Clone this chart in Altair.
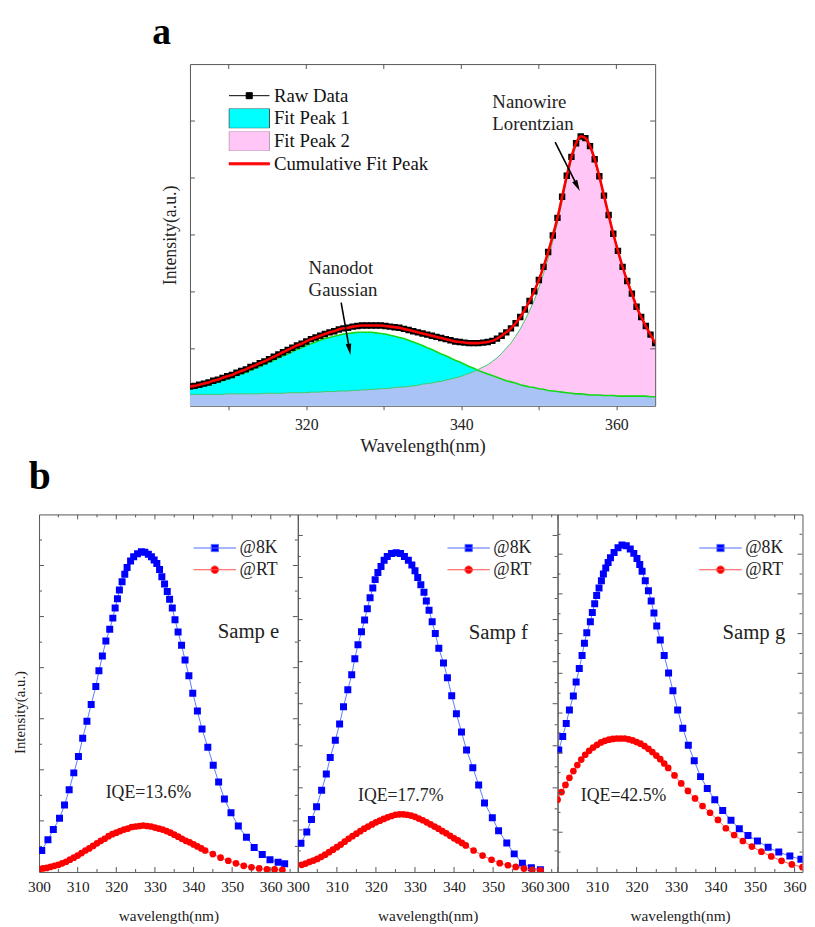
import altair as alt
import pandas as pd

FONT = "Liberation Serif"
FRAME = "#555555"

# ---------------- panel a : values ----------------
wl_a = [
    305.0, 305.6, 306.2, 306.8, 307.4, 308.0, 308.6, 309.2, 309.8, 310.4,
    311.0, 311.6, 312.2, 312.8, 313.4, 314.0, 314.6, 315.2, 315.8, 316.4,
    317.0, 317.6, 318.2, 318.8, 319.4, 320.0, 320.6, 321.2, 321.8, 322.4,
    323.0, 323.6, 324.2, 324.8, 325.4, 326.0, 326.6, 327.2, 327.8, 328.4,
    329.0, 329.6, 330.2, 330.8, 331.4, 332.0, 332.6, 333.2, 333.8, 334.4,
    335.0, 335.6, 336.2, 336.8, 337.4, 338.0, 338.6, 339.2, 339.8, 340.4,
    341.0, 341.6, 342.2, 342.8, 343.4, 344.0, 344.6, 345.2, 345.8, 346.4,
    347.0, 347.6, 348.2, 348.8, 349.4, 350.0, 350.6, 351.2, 351.8, 352.4,
    353.0, 353.6, 354.2, 354.8, 355.4, 356.0, 356.6, 357.2, 357.8, 358.4,
    359.0, 359.6, 360.2, 360.8, 361.4, 362.0, 362.6, 363.2, 363.8, 364.4,
    365.0,
]
raw_a = [
    0.34, 0.35, 0.37, 0.39, 0.41, 0.44, 0.46, 0.49, 0.52, 0.54,
    0.58, 0.61, 0.64, 0.68, 0.71, 0.75, 0.78, 0.82, 0.86, 0.90,
    0.94, 0.98, 1.02, 1.06, 1.09, 1.13, 1.17, 1.20, 1.23, 1.26,
    1.29, 1.31, 1.34, 1.36, 1.37, 1.39, 1.40, 1.41, 1.41, 1.41,
    1.41, 1.41, 1.40, 1.39, 1.38, 1.37, 1.35, 1.33, 1.31, 1.29,
    1.27, 1.25, 1.23, 1.21, 1.19, 1.17, 1.15, 1.13, 1.12, 1.11,
    1.10, 1.10, 1.10, 1.11, 1.12, 1.14, 1.18, 1.23, 1.29, 1.36,
    1.45, 1.56, 1.69, 1.84, 2.01, 2.21, 2.44, 2.70, 2.99, 3.30,
    3.67, 4.04, 4.37, 4.61, 4.73, 4.70, 4.56, 4.33, 4.03, 3.69,
    3.35, 3.02, 2.72, 2.44, 2.19, 1.97, 1.74, 1.56, 1.40, 1.25,
    1.10,
]
peak1_a = [
    0.30, 0.32, 0.33, 0.35, 0.37, 0.40, 0.42, 0.44, 0.47, 0.50,
    0.53, 0.56, 0.59, 0.62, 0.66, 0.69, 0.73, 0.77, 0.80, 0.84,
    0.88, 0.91, 0.95, 0.99, 1.02, 1.06, 1.09, 1.12, 1.15, 1.18,
    1.20, 1.22, 1.24, 1.26, 1.27, 1.28, 1.29, 1.29, 1.29, 1.29,
    1.28, 1.27, 1.26, 1.24, 1.22, 1.20, 1.18, 1.15, 1.12, 1.09,
    1.06, 1.02, 0.99, 0.95, 0.91, 0.88, 0.84, 0.80, 0.77, 0.73,
    0.69, 0.66, 0.62, 0.59, 0.56, 0.53, 0.50, 0.47, 0.44, 0.42,
    0.40, 0.37, 0.35, 0.33, 0.32, 0.30, 0.29, 0.27, 0.26, 0.25,
    0.24, 0.23, 0.22, 0.21, 0.21, 0.20, 0.19, 0.19, 0.19, 0.18,
    0.18, 0.18, 0.17, 0.17, 0.17, 0.17, 0.17, 0.17, 0.17, 0.16,
    0.16,
]
peak2_a = [
    0.20, 0.20, 0.20, 0.20, 0.20, 0.20, 0.20, 0.20, 0.21, 0.21,
    0.21, 0.21, 0.21, 0.21, 0.21, 0.21, 0.22, 0.22, 0.22, 0.22,
    0.22, 0.23, 0.23, 0.23, 0.23, 0.23, 0.24, 0.24, 0.24, 0.25,
    0.25, 0.25, 0.26, 0.26, 0.26, 0.27, 0.27, 0.28, 0.28, 0.29,
    0.29, 0.30, 0.30, 0.31, 0.32, 0.33, 0.33, 0.34, 0.35, 0.36,
    0.38, 0.39, 0.40, 0.42, 0.43, 0.45, 0.47, 0.49, 0.51, 0.54,
    0.57, 0.60, 0.64, 0.68, 0.72, 0.78, 0.84, 0.92, 1.01, 1.10,
    1.22, 1.35, 1.50, 1.67, 1.85, 2.07, 2.32, 2.59, 2.89, 3.21,
    3.59, 3.97, 4.31, 4.56, 4.68, 4.66, 4.53, 4.30, 4.00, 3.67,
    3.33, 3.01, 2.70, 2.43, 2.18, 1.96, 1.73, 1.55, 1.40, 1.25,
    1.10,
]
legend_a = ["Raw Data", "Fit Peak 1", "Fit Peak 2", "Cumulative Fit Peak"]
ann_a_text = ["Nanowire", "Lorentzian", "Nanodot", "Gaussian"]
ann_a_wl = [344.0, 344.0, 320.3, 320.3]
ann_a_val = [5.33, 4.95, 2.41, 2.03]
arrow_wire = {"wl": [352.1], "val": [4.63], "wl2": [354.95], "val2": [3.86]}
arrow_dot = {"wl": [324.5], "val": [1.81], "wl2": [325.57], "val2": [0.99]}
xticks_a = [310, 320, 330, 340, 350, 360]
yticks_a = [1, 2, 3, 4, 5]

# ---------------- panel b : values ----------------
e8_wl = [300.7, 302.3, 303.7, 305.3, 306.6, 307.8, 309.0, 310.2, 311.3, 312.4,
         313.5, 314.7, 315.5, 316.4, 317.3, 318.3, 319.1, 319.7, 320.3, 320.8,
         321.5, 322.2, 322.8, 323.7, 324.5, 325.5, 326.5, 327.4, 328.3, 329.1,
         329.8, 330.5, 331.2, 331.8, 332.5, 333.2, 333.8, 334.5, 335.2, 336.0,
         336.9, 337.8, 338.8, 339.8, 341.0, 342.2, 343.7, 345.1, 346.5, 348.0,
         349.7, 351.6, 353.7, 355.7, 357.8, 359.8, 361.9, 363.6]
e8_val = [0.42, 0.63, 0.83, 1.05, 1.31, 1.61, 1.94, 2.26, 2.62, 2.95,
          3.28, 3.63, 3.94, 4.23, 4.52, 4.75, 4.97, 5.17, 5.35, 5.52,
          5.68, 5.83, 5.96, 6.09, 6.17, 6.23, 6.27, 6.26, 6.22, 6.17,
          6.11, 6.04, 5.92, 5.78, 5.64, 5.49, 5.34, 5.17, 4.94, 4.70,
          4.44, 4.15, 3.84, 3.50, 3.15, 2.80, 2.44, 2.09, 1.76, 1.43,
          1.16, 0.90, 0.68, 0.48, 0.34, 0.24, 0.19, 0.16]
eRT_wl = [300, 301, 302, 303, 304, 305, 306, 307, 308, 309,
          310, 311, 312, 313, 314, 315, 316, 317, 318, 319,
          320, 321, 322, 323, 324, 325, 326, 327, 328, 329,
          330, 331, 332, 333, 334, 335, 336, 337, 338, 339,
          340, 341, 342, 343, 345, 347, 349, 351, 353, 355,
          357, 359, 361, 363]
eRT_val = [0.05, 0.07, 0.08, 0.10, 0.12, 0.14, 0.17, 0.20, 0.24, 0.28,
           0.32, 0.37, 0.42, 0.46, 0.51, 0.56, 0.61, 0.65, 0.70, 0.74,
           0.77, 0.80, 0.83, 0.85, 0.88, 0.89, 0.90, 0.91, 0.90, 0.89,
           0.87, 0.85, 0.83, 0.80, 0.77, 0.73, 0.69, 0.65, 0.61, 0.58,
           0.54, 0.50, 0.46, 0.42, 0.35, 0.28, 0.22, 0.17, 0.12, 0.09,
           0.07, 0.05, 0.05, 0.04]
f8_wl = [300.8, 302.3, 303.5, 304.8, 306.1, 307.3, 308.3, 309.6, 310.7, 311.7,
         312.8, 313.8, 314.6, 315.4, 316.3, 317.1, 317.8, 318.5, 319.2, 319.8,
         320.5, 321.3, 322.1, 322.9, 324.0, 325.2, 326.3, 327.3, 328.3, 329.2,
         330.0, 330.7, 331.5, 332.3, 332.9, 333.6, 334.4, 335.2, 336.1, 337.3,
         338.3, 339.4, 340.6, 341.9, 343.2, 344.8, 346.3, 347.8, 349.8, 351.4,
         353.5, 355.4, 357.5, 359.8, 362.1]
f8_val = [0.68, 0.95, 1.25, 1.55, 1.94, 2.33, 2.72, 3.13, 3.52, 3.93,
          4.33, 4.69, 5.07, 5.40, 5.71, 5.99, 6.26, 6.52, 6.75, 6.95,
          7.12, 7.26, 7.41, 7.50, 7.57, 7.59, 7.57, 7.50, 7.41, 7.30,
          7.16, 7.00, 6.83, 6.65, 6.44, 6.22, 5.95, 5.67, 5.32, 4.97,
          4.62, 4.19, 3.76, 3.33, 2.90, 2.48, 2.07, 1.64, 1.29, 0.98,
          0.69, 0.43, 0.21, 0.10, 0.05]
fRT_wl = [301, 302, 303, 304, 305, 306, 307, 308, 309, 310,
          311, 312, 313, 314, 315, 316, 317, 318, 319, 320,
          321, 322, 323, 324, 325, 326, 327, 328, 329, 330,
          331, 332, 333, 334, 335, 336, 337, 338, 339, 340,
          341, 342, 343, 345.0, 347.3, 349.6, 351.7, 353.8, 355.8, 357.9,
          360.0, 362.1]
fRT_val = [0.17, 0.20, 0.24, 0.27, 0.31, 0.36, 0.41, 0.47, 0.53, 0.59,
           0.65, 0.72, 0.79, 0.85, 0.91, 0.97, 1.03, 1.08, 1.13, 1.18,
           1.22, 1.26, 1.30, 1.33, 1.36, 1.37, 1.37, 1.36, 1.34, 1.31,
           1.27, 1.23, 1.18, 1.13, 1.08, 1.03, 0.97, 0.92, 0.86, 0.80,
           0.75, 0.69, 0.63, 0.51, 0.39, 0.29, 0.21, 0.16, 0.12, 0.08,
           0.05, 0.04]
g8_wl = [300.3, 301.3, 302.2, 303.0, 304.0, 304.7, 305.5, 306.2, 306.8, 307.4,
         308.3, 308.8, 309.4, 309.9, 310.5, 311.1, 311.6, 312.2, 312.8, 313.4,
         314.3, 315.3, 316.3, 317.4, 318.4, 319.3, 320.1, 320.8, 321.4, 322.2,
         323.0, 323.7, 324.4, 325.1, 326.0, 327.0, 328.1, 329.2, 330.4, 331.7,
         333.1, 334.6, 336.2, 337.9, 339.8, 341.8, 343.9, 346.0, 348.2, 350.6,
         353.3, 356.0, 358.8, 361.6]
g8_val = [3.07, 3.41, 3.74, 4.08, 4.43, 4.78, 5.12, 5.45, 5.76, 6.02,
          6.30, 6.53, 6.75, 6.96, 7.15, 7.33, 7.50, 7.65, 7.79, 7.91,
          8.04, 8.16, 8.23, 8.21, 8.13, 8.02, 7.89, 7.74, 7.57, 7.33,
          7.08, 6.82, 6.52, 6.19, 5.84, 5.45, 5.01, 4.56, 4.08, 3.62,
          3.19, 2.80, 2.40, 2.10, 1.82, 1.55, 1.30, 1.09, 0.92, 0.78,
          0.62, 0.50, 0.40, 0.32]
gRT_wl = [300, 301, 302, 303, 304, 305, 306, 307, 308, 309,
          310, 311, 312, 313, 314, 315, 316, 317, 318, 319,
          320, 321, 322, 323, 324, 325, 326, 327, 328, 329.6,
          331.3, 333.0, 334.8, 336.7, 338.6, 340.6, 342.6, 344.7, 346.9, 349.2,
          351.6, 354.1, 356.7, 359.3, 362.0]
gRT_val = [1.82, 2.01, 2.19, 2.37, 2.54, 2.69, 2.83, 2.95, 3.05, 3.13,
           3.20, 3.26, 3.30, 3.33, 3.35, 3.36, 3.36, 3.36, 3.34, 3.31,
           3.27, 3.23, 3.17, 3.10, 3.02, 2.93, 2.84, 2.73, 2.62, 2.43,
           2.23, 2.04, 1.85, 1.66, 1.49, 1.31, 1.10, 0.93, 0.78, 0.64,
           0.51, 0.39, 0.28, 0.19, 0.12]

legend_b = ["@8K", "@RT"]
sample_names = ["Samp e", "Samp f", "Samp g"]
iqe_text = ["IQE=13.6%", "IQE=17.7%", "IQE=42.5%"]
samp_wl = [346.25, 343.75, 341.75]
samp_val = [4.69, 5.68, 6.02]
iqe_wl = [317.25, 315.4, 305.9]
iqe_val = [1.55, 1.81, 1.92]
xlabels_b = [300, 310, 320, 330, 340, 350, 360]
xminor_b = [305, 315, 325, 335, 345, 355, 365]
ymajor_e = [1, 2, 3, 4, 5, 6]
yminor_e = [0.5, 1.5, 2.5, 3.5, 4.5, 5.5, 6.5]
ymajor_f = [1, 2, 3, 4, 5, 6, 7, 8]
yminor_f = [0.5, 1.5, 2.5, 3.5, 4.5, 5.5, 6.5, 7.5]
ymajor_g = [1, 2, 3, 4, 5, 6, 7, 8]
yminor_g = [0.5, 1.5, 2.5, 3.5, 4.5, 5.5, 6.5, 7.5, 8.5]

# legend symbol shapes (custom paths)
PATH_RAW = "M-1,0H1M-0.15,-0.15H0.15V0.15H-0.15Z"
PATH_BOX = "M-1,-0.49H1V0.49H-1Z"
PATH_FIT = "M-1,-0.05H1V0.05H-1Z"
PATH_SQ = "M-1,0H1M-0.17,-0.17H0.17V0.17H-0.17Z"
PATH_CI = "M-1,0H1M0.18,0A0.18,0.18,0,1,1,-0.18,0A0.18,0.18,0,1,1,0.18,0Z"
PATH_HEAD = "M0,-1L0.5,1L-0.5,1Z"


def xrule(vals, X, y0, y1):
    return alt.Chart(pd.DataFrame({"wl": vals})).mark_rule(
        color=FRAME, strokeWidth=1, clip=True
    ).encode(x=X, y=alt.value(y0), y2=alt.value(y1))


def yrule(vals, Y, x0, x1):
    return alt.Chart(pd.DataFrame({"val": vals})).mark_rule(
        color=FRAME, strokeWidth=1, clip=True
    ).encode(y=Y, x=alt.value(x0), x2=alt.value(x1))


# ---------------- panel a ----------------
W_A, H_A = 471, 346
xs_a = alt.Scale(domain=[305, 365], nice=False, zero=False)
ys_a = alt.Scale(domain=[0, 6], nice=False)
ax_ax = alt.Axis(title="Wavelength(nm)", values=xticks_a,
                 labelExpr="datum.value % 20 == 0 ? datum.label : ''",
                 grid=False, domain=False, ticks=True, tickSize=4, tickColor=FRAME,
                 labelPadding=7, labelFontSize=16, labelFlush=False,
                 titleFontSize=19, titlePadding=4)
ax_ay = alt.Axis(title="Intensity(a.u.)", labels=False, ticks=False, domain=False,
                 grid=False, titleFontSize=18, titlePadding=11)
XA = alt.X("wl:Q", scale=xs_a, axis=ax_ax)


def YA(field):
    return alt.Y(f"{field}:Q", scale=ys_a, axis=ax_ay)


df_a = pd.DataFrame({"wl": wl_a, "raw": raw_a, "p1": peak1_a, "p2": peak2_a})
base_a = alt.Chart(df_a)
area1 = base_a.mark_area(color="#00FFFF", clip=True).encode(x=XA, y=YA("p1"))
area2 = base_a.mark_area(color="#FFC6F6", clip=True).encode(x=XA, y=YA("p2"))
area3 = base_a.transform_calculate(ov="min(datum.p1, datum.p2)").mark_area(
    color="#A9C3F6", clip=True).encode(x=XA, y=YA("ov"))
edge1 = base_a.mark_line(color="#14d814", strokeWidth=1.6, clip=True).encode(x=XA, y=YA("p1"))
edge2 = base_a.mark_line(color="#3cc86a", strokeWidth=1, clip=True).encode(x=XA, y=YA("p2"))
raw_line = base_a.mark_line(color="black", strokeWidth=1.5, clip=True).encode(x=XA, y=YA("raw"))
raw_pts = base_a.mark_point(shape="square", filled=True, color="black", size=42,
                            opacity=1, clip=True).encode(x=XA, y=YA("raw"))
fit_line = base_a.mark_line(color="#FF0000", strokeWidth=2.6, interpolate="monotone",
                            clip=True).encode(x=XA, y=YA("raw"))

ann_a = alt.Chart(pd.DataFrame({"wl": ann_a_wl, "val": ann_a_val, "txt": ann_a_text})).mark_text(
    align="left", baseline="middle", font=FONT, fontSize=19, color="#222222"
).encode(x=XA, y=YA("val"), text="txt:N")


def arrow(d, angle):
    df = pd.DataFrame(d)
    shaft = alt.Chart(df).mark_rule(color="black", strokeWidth=1.6).encode(
        x=XA, y=YA("val"), x2="wl2:Q", y2="val2:Q")
    head = alt.Chart(df).mark_point(shape=PATH_HEAD, filled=True, color="black", size=130,
                                    opacity=1, angle=angle).encode(
        x=alt.X("wl2:Q", scale=xs_a, axis=ax_ax), y=alt.Y("val2:Q", scale=ys_a, axis=ax_ay))
    return shaft + head


leg_a_props = alt.Legend(title=None, orient="none", legendX=39, legendY=22, padding=0,
                         labelFont=FONT, labelFontSize=19, labelColor="#111111",
                         symbolSize=1681, symbolStrokeWidth=1, labelOffset=4,
                         rowPadding=3, clipHeight=20, labelLimit=0)
leg_a = alt.Chart(pd.DataFrame({"item_a": legend_a})).transform_filter("false").mark_point(
    filled=True, opacity=1
).encode(
    fill=alt.Fill("item_a:N", scale=alt.Scale(domain=legend_a, range=["#000000", "#00FFFF", "#FFC6F6", "#FF0000"]), legend=leg_a_props),
    stroke=alt.Stroke("item_a:N", scale=alt.Scale(domain=legend_a, range=["#000000", "#4a4a4a", "#b49ab4", "#FF0000"]), legend=leg_a_props),
    shape=alt.Shape("item_a:N", scale=alt.Scale(domain=legend_a, range=[PATH_RAW, PATH_BOX, PATH_BOX, PATH_FIT]), legend=leg_a_props),
)

ticks_a = alt.layer(
    xrule(xticks_a, XA, 0, 5),
    yrule(yticks_a, YA("val"), 0, 5),
    yrule(yticks_a, YA("val"), W_A, W_A - 5),
)

panel_a = alt.layer(
    area1, area2, area3, edge1, edge2, raw_line, raw_pts, fit_line,
    ann_a, arrow(arrow_wire, 153), arrow(arrow_dot, 170), ticks_a, leg_a
).properties(width=W_A, height=H_A)


# ---------------- panel b ----------------
H_B = 362


def panel_b(i, wl8, v8, wlr, vr, ymax, xmax, width, leg_x, ymaj, ymin, show_y):
    xs = alt.Scale(domain=[300, xmax], nice=False, zero=False)
    ys = alt.Scale(domain=[0, ymax], nice=False)
    ax_x = alt.Axis(title="wavelength(nm)", values=xlabels_b, grid=False, domain=False,
                    ticks=False, labelPadding=8, labelFontSize=15.5, labelFlush=False,
                    labelOverlap=False, titleFontSize=15.5, titlePadding=14)
    if show_y:
        ax_y = alt.Axis(title="Intensity(a.u.)", labels=False, ticks=False, domain=False,
                        grid=False, titleFontSize=15, titlePadding=12, titleY=200)
    else:
        ax_y = None
    X = alt.X("wl:Q", scale=xs, axis=ax_x)
    Y = alt.Y("val:Q", scale=ys, axis=ax_y)

    d8 = alt.Chart(pd.DataFrame({"wl": wl8, "val": v8}))
    drt = alt.Chart(pd.DataFrame({"wl": wlr, "val": vr}))
    l8 = d8.mark_line(color="#5b7bff", strokeWidth=1, clip=True).encode(x=X, y=Y)
    p8 = d8.mark_point(shape="square", filled=True, color="#0000FF", size=50, opacity=1,
                       clip=True).encode(x=X, y=Y)
    lrt = drt.mark_line(color="#ff6060", strokeWidth=1, clip=True).encode(x=X, y=Y)
    prt = drt.mark_circle(color="#FF0000", size=46, opacity=1, clip=True).encode(x=X, y=Y)

    samp = alt.Chart(pd.DataFrame({"wl": [samp_wl[i]], "val": [samp_val[i]], "txt": [sample_names[i]]})).mark_text(
        align="left", baseline="middle", font=FONT, fontSize=21, color="#222222"
    ).encode(x=X, y=Y, text="txt:N")
    iqe = alt.Chart(pd.DataFrame({"wl": [iqe_wl[i]], "val": [iqe_val[i]], "txt": [iqe_text[i]]})).mark_text(
        align="left", baseline="middle", font=FONT, fontSize=18, color="#222222"
    ).encode(x=X, y=Y, text="txt:N")

    ticks = alt.layer(
        xrule(xlabels_b, X, 0, 5), xrule(xminor_b, X, 0, 3),
        xrule(xlabels_b, X, H_B, H_B - 5), xrule(xminor_b, X, H_B, H_B - 3),
        yrule(ymaj, Y, 0, 5), yrule(ymin, Y, 0, 3),
        yrule(ymaj, Y, width, width - 5), yrule(ymin, Y, width, width - 3),
    )

    lp = alt.Legend(title=None, orient="none", legendX=leg_x, legendY=25, padding=0,
                    labelFont=FONT, labelFontSize=18, labelColor="#222222",
                    symbolSize=1849, symbolStrokeWidth=1, labelOffset=3,
                    rowPadding=4, clipHeight=18, labelLimit=0)
    leg = alt.Chart(pd.DataFrame({"item_b": legend_b})).transform_filter("false").mark_point(
        filled=True, opacity=1
    ).encode(
        fill=alt.Fill("item_b:N", scale=alt.Scale(domain=legend_b, range=["#0000FF", "#FF0000"]), legend=lp),
        stroke=alt.Stroke("item_b:N", scale=alt.Scale(domain=legend_b, range=["#4d6dff", "#ff4d4d"]), legend=lp),
        shape=alt.Shape("item_b:N", scale=alt.Scale(domain=legend_b, range=[PATH_SQ, PATH_CI]), legend=lp),
    )
    return alt.layer(l8, p8, lrt, prt, samp, iqe, ticks, leg).properties(width=width, height=H_B)


pe = panel_b(0, e8_wl, e8_val, eRT_wl, eRT_val, 7, 367, 262, 156, ymajor_e, yminor_e, True)
pf = panel_b(1, f8_wl, f8_val, fRT_wl, fRT_val, 8.5, 366.5, 263, 151, ymajor_f, yminor_f, False)
pg = panel_b(2, g8_wl, g8_val, gRT_wl, gRT_val, 9, 362, 248, 143, ymajor_g, yminor_g, False)

indep_scales = dict(x="independent", y="independent", fill="independent",
                    stroke="independent", shape="independent")
indep_leg = dict(fill="independent", stroke="independent", shape="independent")

panel_b_chart = alt.hconcat(pe, pf, pg, spacing=0, bounds="flush").resolve_scale(
    **indep_scales).resolve_legend(**indep_leg).properties(
    title=alt.TitleParams("b", anchor="start", dx=17, fontSize=40, fontWeight="bold",
                          font=FONT, color="black", offset=17))

chart = alt.vconcat(panel_a, panel_b_chart, spacing=1, center=True).resolve_scale(
    **indep_scales).resolve_legend(**indep_leg).properties(
    title=alt.TitleParams("a", anchor="start", dx=142, fontSize=38, fontWeight="bold",
                          font=FONT, color="black", offset=12),
    padding={"left": 3, "top": 0, "right": 0, "bottom": 0},
).configure_view(stroke=FRAME, strokeWidth=1).configure_axis(
    labelFont=FONT, titleFont=FONT, labelColor="#222222", titleColor="#222222",
    titleFontWeight="normal")

chart.save("out.html", embed_options={"renderer": "svg", "actions": False})
